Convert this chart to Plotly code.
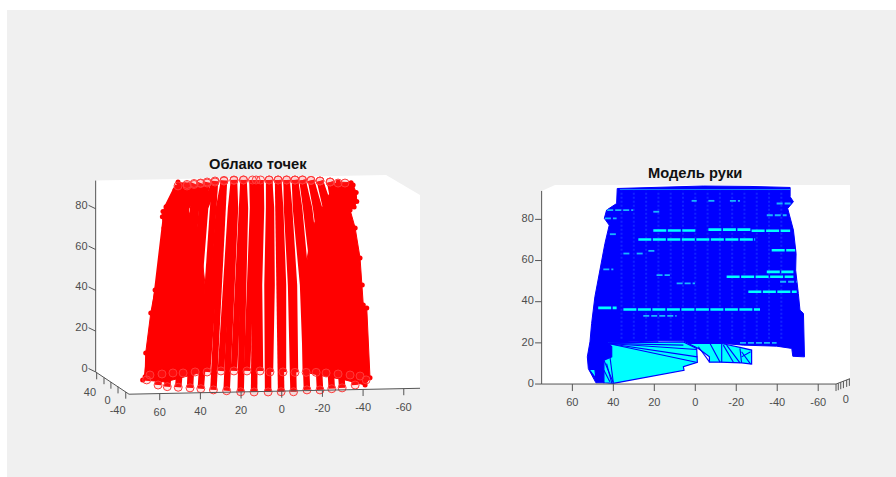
import plotly.graph_objects as go

W, H = 896, 477
RED, BLUE, CYAN, AXC, TXT = "#ff0000", "#0000ff", "#00ffff", "#555555", "#4d4d4d"
FONT = "Liberation Sans"

title_left, title_right = "Облако точек", "Модель руки"
x_tick_vals = [60, 40, 20, 0, -20, -40, -60]
z_tick_vals = [0, 20, 40, 60, 80]

# Left panel: axes frame
l_wall_x = [91.5, -51.3, -68, -68, 75.1, 91.5, 91.5]
l_wall_z = [93.8, 96.6, 86.8, -8, -10.9, 0, 93.8]
l_xtick_base = [-10.6, -10.2, -9.8, -9.4, -9.0, -8.6, -8.2]
l_xlabel_z = [-20, -19.6, -19.1, -18.8, -18.5, -18, -17.6]
l_ytick_x = [91.0, 87.4, 84, 80.5, 76.7]
l_ytick_z = [-0.3, -2.7, -4.9, -7.2, -9.8]
l_ylabel_text = ["40", "0", "-40"]
l_ylabel_x = [94.3, 85.6, 80.7]
l_ylabel_z = [-10.4, -14.6, -19.1]

# Left panel: scan columns of the point cloud (apparent x at four heights)
z_mid, z_upper = 42.6, 80.4
front_x_bottom = [66.4, 60.8, 56.3, 50.9, 45.1, 39.8, 33.6, 27.1, 20.2, 13.6, 6.7, 0.3, -5.8, -12.4, -18.8, -24.6, -29.7, -36.1, -41.5]
front_x_mid = [60.8, 56.4, 52.5, 47.1, 42.6, 36.7, 31.3, 24.9, 19.0, 13.1, 7.0, 0.8, -4.6, -10.5, -16.4, -21.8, -26.7, -31.1, -34.6]
front_x_upper = [56.4, 52.0, 48.5, 43.6, 39.2, 33.8, 28.9, 23.0, 18.1, 12.1, 6.2, 1.8, -2.6, -7.0, -12.0, -16.9, -21.8, -26.2, -29.7]
front_x_top = [51.0, 46.6, 43.1, 39.9, 36.7, 32.8, 28.4, 23.5, 18.8, 12.6, 6.2, 1.8, -2.4, -6.5, -10.2, -14.4, -18.8, -23.8, -27.7]
front_z_bottom = [-3.9, -6.4, -7.2, -7.5, -7.8, -8.2, -8.8, -9.2, -9.7, -9.8, -9.8, -9.7, -9.7, -8.8, -8.8, -8.2, -7.8, -6.4, -3.9]
front_z_top = [91.2, 91.9, 92.4, 92.6, 93.1, 93.6, 93.9, 94.1, 94.1, 94.1, 94.1, 94.1, 94.1, 94.1, 94.1, 93.9, 93.6, 93.1, 92.6]
back_x_bottom = [64.8, 58.9, 53.5, 48.5, 42.6, 36.7, 29.9, 23.5, 17.1, 10.7, 5.8, -0.6, -6.5, -12, -16.9, -21.8, -27.7, -33.6, -38.5]
back_x_mid = [59.9, 54.9, 50, 45.1, 40.7, 33.8, 27.4, 21, 15.1, 11.2, 5.0, -0.6, -6.0, -12, -17.9, -23.3, -28.2, -33.1, -37]
back_x_upper = [55.9, 51, 47.1, 42.2, 37.7, 30.8, 24.9, 19.5, 14.1, 10.2, 5.3, 0.8, -3.6, -8.5, -13.4, -18.3, -23.3, -27.7, -32.1]
back_x_top = [46.6, 43.1, 39.9, 36.7, 32.8, 28.4, 23.5, 18.8, 14.4, 10.4, 6.2, 1.8, -2.4, -6.5, -10.2, -14.4, -18.8, -23.8, -31.1]
back_z_bottom = [-1.5, -1, -0.5, -0.5, 0, 0, 0.5, 0.5, 0.5, 0.5, 0, 0, -0.2, -0.2, -0.2, -0.5, -1, -1.5, -2]

# Left panel: dense flanks of the cloud (outer edge first, then inner edge)
left_mass_x = [51, 52.5, 52.8, 54.5, 56.9, 58.4, 58.7, 57.9, 59.9, 62.3, 64.4, 66.9, 67.2, 68.4, 57.4, 38.7, 37.7, 40.2, 46.1, 45.1]
left_mass_z = [93.1, 89.2, 83.5, 82.6, 81, 78.6, 76.1, 70.6, 51.6, 40.2, 28.9, 9.3, -2.3, -3.9, -4.9, 0, 42.6, 64.7, 79.4, 92.6]
right_mass_x = [-27.7, -34.1, -35.1, -36.6, -36.9, -35.6, -33.6, -36.1, -38.5, -39.6, -40.1, -41.8, -43.4, -41, -31.1, -10.5, -10.5, -14.9, -26.2]
right_mass_z = [93.1, 92.8, 91.7, 88, 83.5, 80.8, 79.4, 70.6, 55.9, 42.6, 32.8, 31.4, -2.9, -6.4, -3.9, 0, 42.6, 70.6, 92.6]
n_outer = 14

# Right panel: axes frame
r_wall_x = [75, 75, 68.5, -75.5, -75.5, -68.7, 75]
r_wall_z = [0, 93.8, 96.7, 96.7, 2.6, 0, 0]
r_ytick_x = [-68.7, -69.8, -71, -72.3, -73.9, -75.2]
r_ytick_z = [0, 0.4, 0.9, 1.4, 2, 2.5]

# Right panel: surface outline and gaps
surf_x = [38.1, -3.9, -26.7, -46.3, -46.3, -47.9, -45.1, -47.9, -49.2, -49, -50.3, -51.1, -52.8, -53.3, -47.6, -47.1, -39.7, -23.5, -13.7, 3.4, 5.8, 18, 42.5, 40.8, 40.8, 44.4, 44.4, 48.5, 52.2, 52.7, 51.4, 50.6, 49, 46.5, 44.1, 42, 44.4, 43.3, 38.4, 38.1]
surf_z = [95, 96.2, 96, 95.5, 91, 88.6, 85.3, 74.8, 63.4, 55.3, 44, 35.9, 34.3, 13.2, 13.5, 17.3, 18.4, 18.9, 19.7, 19.7, 21, 21, 20, 18.1, 13.2, 11.6, 0.6, 0.6, 7.5, 13.2, 20.5, 29.4, 42.4, 55.3, 68.3, 77.2, 80.5, 84.5, 87.7, 95]
facet1_x = [42.5, 5.8, -0.7, -1, 5.8, 5.5, 40, 44.6, 44.6, 40.8, 40.8, 42.5]
facet1_z = [20, 20.5, 17.3, 10.5, 8.4, 6.7, 0.3, 0.6, 11.6, 13.2, 18.1, 20]
facet2_x = [3.4, -12.9, -21.8, -27.5, -27.5, -22.6, -12.1, -6.9, -6.9, -1.5, 3.4]
facet2_z = [19.7, 19.7, 17.8, 16.5, 9.7, 10.3, 10.6, 10.6, 13.2, 17.3, 19.7]
facet3_x = [51.9, 49, 48.5, 51.9]
facet3_z = [7.1, 7.1, 2.7, 7.1]

# Right panel: mesh edges over the gaps (x0, z0, x1, z1)
edges = [
    (42.5, 19.7, 18, 20.5), (42.5, 19.7, 5.8, 18.9), (42.5, 19.7, -0.7, 16.8), (42.5, 19.7, -1, 13.2),
    (42.5, 19.7, -1, 10.5), (42.5, 19.7, 40, 0.6), (44.6, 11.6, 40, 0.6), (43.3, 9.9, 40.8, 0.6),
    (44.6, 6.7, 41.7, 1.1), (-1.5, 18.1, -6.9, 10.8), (-7.2, 19.7, -12.1, 10.6), (-12.9, 19.7, -12.9, 10.6),
    (-13.7, 18.9, -18.6, 10.6), (-15.3, 18.9, -21.8, 10.3), (-21.8, 17.3, -22.6, 10.3), (-22.6, 15.7, -27, 9.7),
    (-27, 15.7, -22.6, 13.2),
]
# Right panel: slivers where the mesh opens (z, x0, x1)
slivers_wide = [
    (70.2, 27.8, -29.2), (74.6, 20.5, -0.3), (75, -6.4, -27.5), (74.5, -27.5, -46.3), (36.2, 35.1, -31.6),
    (37, 47.4, 38.4), (44.8, -25.9, -49.5), (52.1, -15.3, -47.9), (54.5, -34.9, -47.9), (65, -37.3, -48.7),
]
slivers_thin = [
    (33.1, 25.4, 9.1), (48.9, 9.1, 0.1), (52.9, 18.9, 12.4), (89, 1.8, -0.7), (89, -6.4, -9.6), (89, -16.9, -21.8),
    (83.7, 20.5, 17.6), (84.5, 43, 30.3), (80.5, 44.1, 38.4), (72.8, 41.7, 38.7), (63.4, 35.1, 31.9), (63.4, 28.6, 25.4),
    (64.7, 22.9, 19.7), (55.7, 44.9, 40), (20, -21.8, -39.7), (87.7, -39.7, -47), (82, -34.9, -44.6), (49.7, -41.4, -49.5),
]
top_rim = (94.5, 36.8, -46.3)
mesh_columns = [36, 30, 24, 18, 12, 6, 0, -6, -12, -18, -24, -30, -36, -42]
mesh_z = (22, 94)

fig = go.Figure()


def line(x, z, color, width, ax, fill=None, fillcolor=None, dash=None):
    fig.add_trace(go.Scatter(x=x, y=z, mode="lines", xaxis=ax[0], yaxis=ax[1], hoverinfo="skip", showlegend=False,
                             line=dict(color=color, width=width, dash=dash), fill=fill, fillcolor=fillcolor))


def texts(x, z, labels, ax, pos="middle center"):
    fig.add_trace(go.Scatter(x=x, y=z, mode="text", text=labels, textposition=pos, xaxis=ax[0], yaxis=ax[1],
                             hoverinfo="skip", showlegend=False, cliponaxis=False,
                             textfont=dict(family=FONT, size=11, color=TXT)))


L, R = ("x", "y"), ("x2", "y2")

# ---- left panel ----
line(l_wall_x, l_wall_z, "rgba(0,0,0,0)", 0, L, "toself", "#ffffff")
line(left_mass_x, left_mass_z, RED, 1, L, "toself", RED)
line(right_mass_x, right_mass_z, RED, 1, L, "toself", RED)
fig.add_trace(go.Scatter(
    x=left_mass_x[:n_outer] + right_mass_x[:n_outer], y=left_mass_z[:n_outer] + right_mass_z[:n_outer],
    mode="markers", xaxis="x", yaxis="y", hoverinfo="skip", showlegend=False,
    marker=dict(symbol="circle", size=5, color=RED, line=dict(width=0))))
for i in range(len(back_x_bottom)):
    line([back_x_bottom[i], back_x_mid[i], back_x_upper[i], back_x_top[i]],
         [back_z_bottom[i], z_mid, z_upper, front_z_top[i]], RED, 6.5, L)
for i in range(len(front_x_bottom)):
    line([front_x_bottom[i], front_x_mid[i], front_x_upper[i], front_x_top[i]],
         [front_z_bottom[i], z_mid, z_upper, front_z_top[i]], RED, 6.5, L)
fig.add_trace(go.Scatter(
    x=front_x_bottom + back_x_bottom + front_x_top + back_x_top,
    y=front_z_bottom + back_z_bottom + front_z_top + front_z_top,
    mode="markers", xaxis="x", yaxis="y", hoverinfo="skip", showlegend=False,
    marker=dict(symbol="circle", size=8, color="rgba(255,90,90,0.15)", line=dict(width=1, color="#ff3a3a"))))

line([91.5, 91.5, 75.1, -68], [93.8, 0, -10.9, -8], AXC, 1, L)
for v, b in zip(x_tick_vals, l_xtick_base):
    line([v, v], [b, b - 3.2], AXC, 1, L)
for v in z_tick_vals:
    line([91.5, 95], [v, v + 1.7], AXC, 1, L)
for x, z in zip(l_ytick_x, l_ytick_z):
    line([x, x], [z, z - 3.3], AXC, 1, L)
texts(x_tick_vals, l_xlabel_z, [str(v) for v in x_tick_vals], L)
texts([95.5] * 5, [v + 1.3 for v in z_tick_vals], [str(v) for v in z_tick_vals], L, "middle left")
texts(l_ylabel_x, l_ylabel_z, l_ylabel_text, L)

# ---- right panel ----
line(r_wall_x, r_wall_z, "rgba(0,0,0,0)", 0, R, "toself", "#ffffff")
line(surf_x, surf_z, BLUE, 1, R, "toself", BLUE)
for fx, fz in ((facet1_x, facet1_z), (facet2_x, facet2_z), (facet3_x, facet3_z)):
    line(fx, fz, BLUE, 1.2, R, "toself", CYAN)
for c in mesh_columns:
    line([c, c], list(mesh_z), "rgba(50,100,255,0.35)", 2, R, dash="2px,2px")
for z, a, b in slivers_wide:
    line([a, b], [z, z], CYAN, 2.6, R, dash="13px,1.5px")
for z, a, b in slivers_thin:
    line([a, b], [z, z], "#19b4ff", 1.8, R, dash="6px,2px")
line([top_rim[1], top_rim[2]], [top_rim[0], top_rim[0]], "#1a7aff", 1, R)
for x0, z0, x1, z1 in edges:
    line([x0, x1], [z0, z1], BLUE, 1.1, R)

line([75, 75], [93.8, 0], AXC, 1, R)
line([75, -68.7, -75.5], [0, 0, 2.6], AXC, 1, R)
for v in x_tick_vals:
    line([v, v], [0, -3.4], AXC, 1, R)
for v in z_tick_vals:
    line([75, 78.2], [v, v], AXC, 1, R)
for x, z in zip(r_ytick_x, r_ytick_z):
    line([x, x], [z, z - 3.4], AXC, 1, R)
texts(x_tick_vals, [-9.4] * 7, [str(v) for v in x_tick_vals], R)
texts([78.8] * 5, z_tick_vals, [str(v) for v in z_tick_vals], R, "middle left")
texts([-73.5], [-8], ["0"], R)

hidden = dict(visible=False, showgrid=False, zeroline=False, fixedrange=True)
fig.update_layout(
    width=W, height=H, margin=dict(l=0, r=0, t=0, b=0), autosize=False,
    paper_bgcolor="#ffffff", plot_bgcolor="rgba(0,0,0,0)", showlegend=False,
    xaxis=dict(hidden, domain=[80 / W, 430 / W], range=[99.2, -72.9]),
    yaxis=dict(hidden, domain=[1 - 425 / H, 1 - 150 / H], range=[-26, 108.8]),
    xaxis2=dict(hidden, domain=[515 / W, 860 / W], range=[88.0, -80.4], anchor="y2"),
    yaxis2=dict(hidden, domain=[1 - 425 / H, 1 - 150 / H], range=[-19.9, 113.7], anchor="x2"),
    shapes=[dict(type="rect", xref="paper", yref="paper", x0=7 / W, x1=1, y0=0, y1=1 - 10 / H,
                 fillcolor="#f0f0f0", line=dict(width=0), layer="below")],
    annotations=[
        dict(x=11.7, y=102, xref="x", yref="y", text=f"<b>{title_left}</b>", showarrow=False,
             font=dict(family=FONT, size=14.7, color="#111111")),
        dict(x=0.1, y=102.5, xref="x2", yref="y2", text=f"<b>{title_right}</b>", showarrow=False,
             font=dict(family=FONT, size=14.7, color="#111111")),
    ],
)
fig.write_html("out.html", config={"displayModeBar": False},
               post_script="document.body.style.margin='0';document.documentElement.style.overflow='hidden';")
